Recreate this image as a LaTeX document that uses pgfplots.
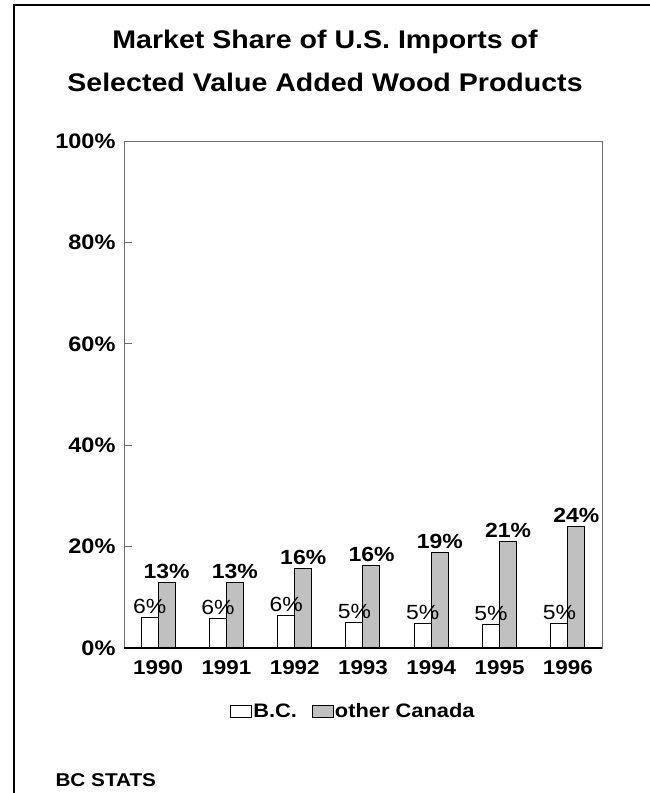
\documentclass[border=0pt]{standalone}
\usepackage{fontspec}
\setmainfont{Liberation Sans}[FakeStretch=1.12]
\usepackage{pgfplots}
\usepackage{pgfplotstable}
\pgfplotsset{compat=1.18}

\definecolor{barGray}{RGB}{192,192,192}
\definecolor{axisGray}{RGB}{110,110,110}

% Share of U.S. imports (%), 1990-1996
\pgfplotstableread{
idx bc   other
0   6.0  13.0
1   5.8  13.0
2   6.4  15.7
3   5.1  16.3
4   4.9  18.9
5   4.6  21.1
6   4.8  23.9
}\sharetable

\begin{document}
\begin{tikzpicture}
\useasboundingbox (0,0) rectangle (650pt,793pt);
% outer frame
\draw[line width=2.2pt] (14pt,-5pt) -- (14pt,788pt) -- (660pt,788pt);

% title
\node[anchor=base, font=\bfseries\fontsize{25.5}{30}\selectfont] at (325pt,744pt) {Market Share of U.S. Imports of};
\node[anchor=base, font=\bfseries\fontsize{25.5}{30}\selectfont] at (325pt,701pt) {Selected Value Added Wood Products};

\begin{axis}[
  at={(124pt,145pt)}, anchor=south west,
  scale only axis, width=478pt, height=507pt,
  xmin=-0.5, xmax=6.5, ymin=0, ymax=100,
  ybar, bar width=17pt,
  /pgf/number format/assume math mode=true,
  xtick={0,...,6},
  xticklabels={1990,1991,1992,1993,1994,1995,1996},
  ytick={0,20,40,60,80,100},
  yticklabel={\pgfmathprintnumber{\tick}\%},
  yticklabel style={font=\bfseries\fontsize{21}{24}\selectfont, xshift=-5pt},
  xticklabel style={font=\bfseries\fontsize{20}{24}\selectfont, yshift=-9pt},
  ytick pos=left,
  xtick style={draw=none},
  ytick style={draw=axisGray, line width=0.7pt},
  major tick length=8pt, tick align=inside,
  axis line style={draw=axisGray, line width=0.8pt},
  reverse legend,
  legend columns=2,
  legend style={at={(axis description cs:0.222,-0.125)}, anchor=west,
    draw=none, fill=none, inner sep=0pt,
    nodes={inner sep=1pt},
    font=\bfseries\fontsize{19.5}{22}\selectfont,
    /tikz/every even column/.append style={column sep=14pt}},
  legend image code/.code={\draw[#1, line width=1pt] (0pt,-6pt) rectangle (21pt,6pt);},
  after end axis/.code={\draw[black, line width=1.4pt] (rel axis cs:0,0) -- (rel axis cs:1,0);},
]
% other Canada first so the B.C. labels sit on top of the grey bars
\addplot[draw=black, line width=1pt, fill=barGray, bar shift=8.5pt,
  nodes near coords={\pgfmathprintnumber[fixed,precision=0]{\pgfplotspointmeta}\%},
  every node near coord/.append style={font=\bfseries\fontsize{20.5}{24}\selectfont, black}]
  table[x=idx, y=other] {\sharetable};
\addlegendentry{other Canada}
\addplot[draw=black, line width=1pt, fill=white, bar shift=-8.5pt,
  nodes near coords={\pgfmathprintnumber[fixed,precision=0]{\pgfplotspointmeta}\%},
  every node near coord/.append style={font=\fontsize{20.5}{24}\selectfont, black}]
  table[x=idx, y=bc] {\sharetable};
\addlegendentry{B.C.}
\end{axis}

\node[anchor=base west, font=\bfseries\fontsize{18.5}{21}\selectfont] at (52pt,6pt) {BC STATS};
\end{tikzpicture}
\end{document}
